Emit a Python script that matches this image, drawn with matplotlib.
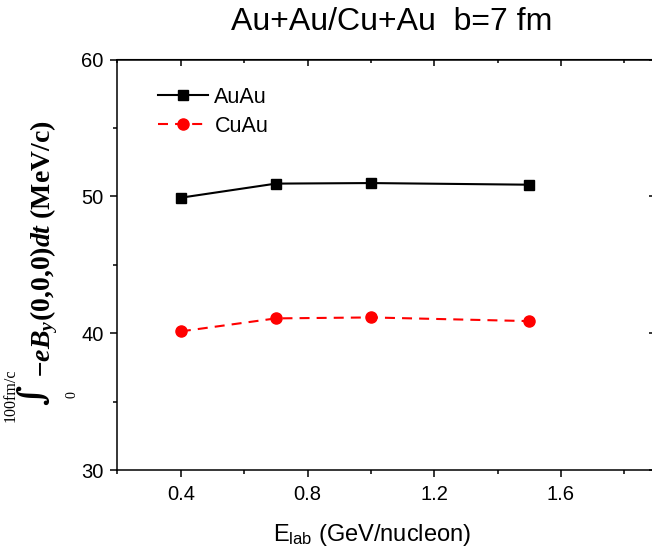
import matplotlib
matplotlib.use("Agg")
import matplotlib.pyplot as plt
from matplotlib.ticker import MultipleLocator

# данные
e_lab = [0.4, 0.7, 1.0, 1.5]
auau = [49.9, 50.93, 50.97, 50.85]
cuau = [40.13, 41.08, 41.15, 40.88]

plt.rcParams['font.family'] = ['Liberation Sans', 'DejaVu Sans']
plt.rcParams['mathtext.fontset'] = 'custom'
plt.rcParams['mathtext.rm'] = 'Liberation Serif'
plt.rcParams['mathtext.it'] = 'Liberation Serif:italic'
plt.rcParams['mathtext.bf'] = 'Liberation Serif:bold'
plt.rcParams['mathtext.bfit'] = 'Liberation Serif:bold:italic'
plt.rcParams['mathtext.sf'] = 'Liberation Sans'

W, H = 652, 548
fig = plt.figure(figsize=(W / 100, H / 100), dpi=100)
ax = fig.add_axes([117.5 / W, 1 - 470 / H, 538.5 / W, 410.5 / H])

ax.plot(e_lab, auau, '-', color='black', lw=1.5, marker='s', ms=7, label='AuAu')
ax.plot(e_lab, cuau, color='red', lw=1.5, ls=(0, (4.8, 3.4)), marker='o', ms=8, label='CuAu')

ax.set_xlim(0.2, 1.9)
ax.set_ylim(30, 60)
ax.xaxis.set_major_locator(MultipleLocator(0.4))
ax.xaxis.set_minor_locator(MultipleLocator(0.2))
ax.yaxis.set_major_locator(MultipleLocator(10))
ax.yaxis.set_minor_locator(MultipleLocator(5))
ax.tick_params(which='both', direction='out', top=False, right=False, width=1.1, labelsize=14.5)
ax.tick_params(which='major', length=5)
ax.tick_params(which='minor', length=3)
ax.tick_params(axis='x', pad=6)
ax.tick_params(axis='y', pad=5)
for s in ax.spines.values():
    s.set_linewidth(1.1)

# верх и право — засечки внутрь
top = ax.secondary_xaxis('top')
top.xaxis.set_major_locator(MultipleLocator(0.4))
top.xaxis.set_minor_locator(MultipleLocator(0.2))
top.tick_params(which='both', direction='in', labeltop=False, width=1.1)
top.tick_params(which='major', length=5)
top.tick_params(which='minor', length=3)
right = ax.secondary_yaxis('right')
right.yaxis.set_major_locator(MultipleLocator(10))
right.yaxis.set_minor_locator(MultipleLocator(5))
right.tick_params(which='both', direction='in', labelright=False, width=1.1)
right.tick_params(which='major', length=5)
right.tick_params(which='minor', length=3)

ax.legend(loc='upper left', bbox_to_anchor=(0.06, 0.955), frameon=False, fontsize=15.5,
          handlelength=2.3, handletextpad=0.3, labelspacing=0.38, borderaxespad=0)

fig.text(392 / W, 1 - 22 / H, 'Au+Au/Cu+Au  b=7 fm', ha='center', va='center', fontsize=23)
fig.text(372 / W, 1 - 535 / H, r'E$_{\mathsf{lab}}$ (GeV/nucleon)', ha='center', va='center', fontsize=17)

# подпись оси y с интегралом
fig.text(44 / W, 1 - 378 / H,
         r'$\mathbfit{-eB}_{\mathbfit{y}}$(0,0,0)$\mathbfit{dt}$ (MeV/c)',
         rotation=90, ha='center', va='bottom', fontsize=20, family='Liberation Serif', weight='bold')
fig.text(33 / W, 1 - 395 / H, '∫', rotation=90, ha='center', va='center', fontsize=25,
         family='DejaVu Serif', weight='bold')
fig.text(11 / W, 1 - 395 / H, '100fm/c', rotation=90, ha='center', va='center', fontsize=11.5,
         family='Liberation Serif')
fig.text(72 / W, 1 - 395 / H, '0', rotation=90, ha='center', va='center', fontsize=10,
         family='Liberation Serif')

fig.savefig('out.png', dpi=100)
